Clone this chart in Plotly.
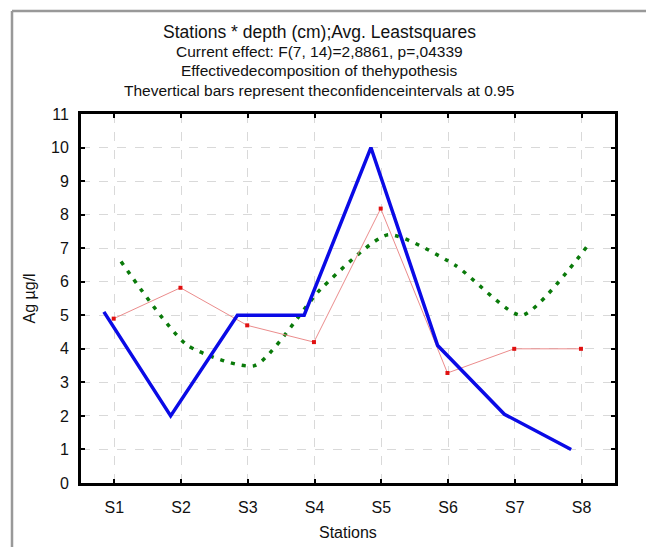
import plotly.graph_objects as go

stations = ["S1", "S2", "S3", "S4", "S5", "S6", "S7", "S8"]
blue_vals = [5.1, 2.0, 5.0, 5.0, 10.0, 4.1, 2.05, 1.0]
red_vals = [4.9, 5.82, 4.7, 4.2, 8.18, 3.28, 4.0, 4.0]
green_vals = [6.6, 4.1, 3.5, 5.8, 7.4, 6.5, 5.0, 7.1]
y_ticks = list(range(0, 12))
title_lines = [
    "Stations * depth (cm);Avg. Leastsquares",
    "Current effect: F(7, 14)=2,8861, p=,04339",
    "Effectivedecomposition of thehypothesis",
    "Thevertical bars represent theconfidenceintervals at 0.95",
]

idx = list(range(1, len(stations) + 1))
blue_x = [i - 0.157 for i in idx]
red_x = [i - 0.01 for i in idx]
green_x = [i + 0.1 for i in idx]

fig = go.Figure()
fig.add_trace(go.Scatter(x=green_x, y=green_vals, mode="lines",
                         line=dict(color="#0a7a0a", width=3.5, dash="4px,7px", shape="spline", smoothing=0.6),
                         showlegend=False))
fig.add_trace(go.Scatter(x=red_x, y=red_vals, mode="lines+markers",
                         line=dict(color="rgba(235,140,140,1)", width=1),
                         marker=dict(symbol="square", size=4, color="#e01010"),
                         showlegend=False))
fig.add_trace(go.Scatter(x=blue_x, y=blue_vals, mode="lines",
                         line=dict(color="#0a0ae6", width=3.5),
                         showlegend=False))

W, H = 646, 547
L, R, T, B = 81, 31, 114, 64
pw, ph = W - L - R, H - T - B

def px_to_paper_y(py):
    return (H - B - py) / ph

def px_to_paper_x(px):
    return (px - L) / pw

annots = []
title_y = [32, 52, 71, 90]
title_size = [17.5, 15.5, 15.5, 15.5]
for t, yy, fs in zip(title_lines, title_y, title_size):
    annots.append(dict(text=t, x=px_to_paper_x(319), y=px_to_paper_y(yy), xref="paper", yref="paper",
                       xanchor="center", yanchor="middle", showarrow=False,
                       font=dict(family="Liberation Sans, Arial", size=fs, color="#111")))
annots.append(dict(text="Ag µg/l", x=px_to_paper_x(29), y=0.5, xref="paper", yref="paper",
                   xanchor="center", yanchor="middle", textangle=-90, showarrow=False,
                   font=dict(family="Liberation Sans, Arial", size=16, color="#111")))
annots.append(dict(text="Stations", x=0.5, y=px_to_paper_y(532), xref="paper", yref="paper",
                   xanchor="center", yanchor="middle", showarrow=False,
                   font=dict(family="Liberation Sans, Arial", size=16, color="#111")))

shapes = [
    dict(type="line", xref="paper", yref="paper", x0=px_to_paper_x(12), x1=px_to_paper_x(12),
         y0=px_to_paper_y(11), y1=px_to_paper_y(560), line=dict(color="#999", width=2.5)),
    dict(type="line", xref="paper", yref="paper", x0=px_to_paper_x(12), x1=px_to_paper_x(660),
         y0=px_to_paper_y(11), y1=px_to_paper_y(11), line=dict(color="#999", width=2.5)),
]

axis_common = dict(showline=True, linecolor="black", linewidth=3, mirror="ticks",
                   ticks="inside", ticklen=4, tickwidth=2, tickcolor="black",
                   showgrid=True, gridcolor="#d9d9d9", griddash="dash", gridwidth=1,
                   zeroline=False, tickfont=dict(family="Liberation Sans, Arial", size=16, color="#111"))

fig.update_layout(
    width=W, height=H, margin=dict(l=L, r=R, t=T, b=B),
    paper_bgcolor="white", plot_bgcolor="white",
    xaxis=dict(range=[0.5, 8.5], tickvals=idx, ticktext=stations, ticklabelstandoff=8, **axis_common),
    yaxis=dict(range=[0, 11], tickvals=y_ticks, ticklabelstandoff=6, **axis_common),
    annotations=annots, shapes=shapes,
)

fig.write_html("out.html")
